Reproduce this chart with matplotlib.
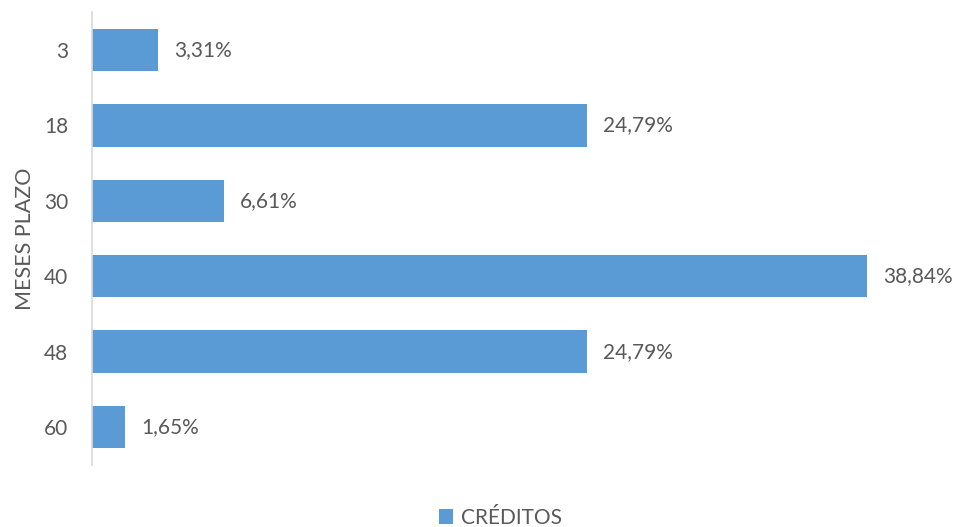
import matplotlib
matplotlib.use("Agg")
import matplotlib.pyplot as plt
from matplotlib.patches import Patch

plt.rcParams['font.family'] = ['Lato', 'DejaVu Sans']

plazos = ["3", "18", "30", "40", "48", "60"]
creditos = [3.31, 24.79, 6.61, 38.84, 24.79, 1.65]
serie = "CRÉDITOS"

bar_color = "#5B9BD5"
text_color = "#595959"

fig = plt.figure(figsize=(9.58, 5.27), dpi=100)
ax = fig.add_axes([92 / 958, 1 - 464.7 / 527, (940 - 92) / 958, (464.7 - 12.3) / 527])

ypos = list(range(len(plazos)))
bars = ax.barh(ypos, creditos, height=0.56, color=bar_color)
ax.set_ylim(len(plazos) - 0.5, -0.5)
ax.set_xlim(0, (940 - 92) / (775 / 38.84))

for y, v in zip(ypos, creditos):
    ax.text(v + 0.8, y, f"{v:.2f}%".replace(".", ","), va="center", ha="left",
            fontsize=15, color=text_color)

ax.set_yticks(ypos)
ax.set_yticklabels(plazos, fontsize=15, color=text_color)
ax.tick_params(axis="y", length=0, pad=17)
ax.set_xticks([])
for s in ["top", "right", "bottom"]:
    ax.spines[s].set_visible(False)
ax.spines["left"].set_color("#D9D9D9")
ax.spines["left"].set_linewidth(1.2)

ax.set_ylabel("MESES PLAZO", fontsize=15.5, color=text_color, labelpad=6.5)

handle = Patch(facecolor=bar_color, edgecolor="none")
fig.legend([handle], [serie], loc="lower center", bbox_to_anchor=(0.522, -0.037),
           frameon=False, fontsize=15, handlelength=0.7, handleheight=0.7,
           handletextpad=0.35, labelcolor=text_color)

fig.savefig("out.png", dpi=100)
